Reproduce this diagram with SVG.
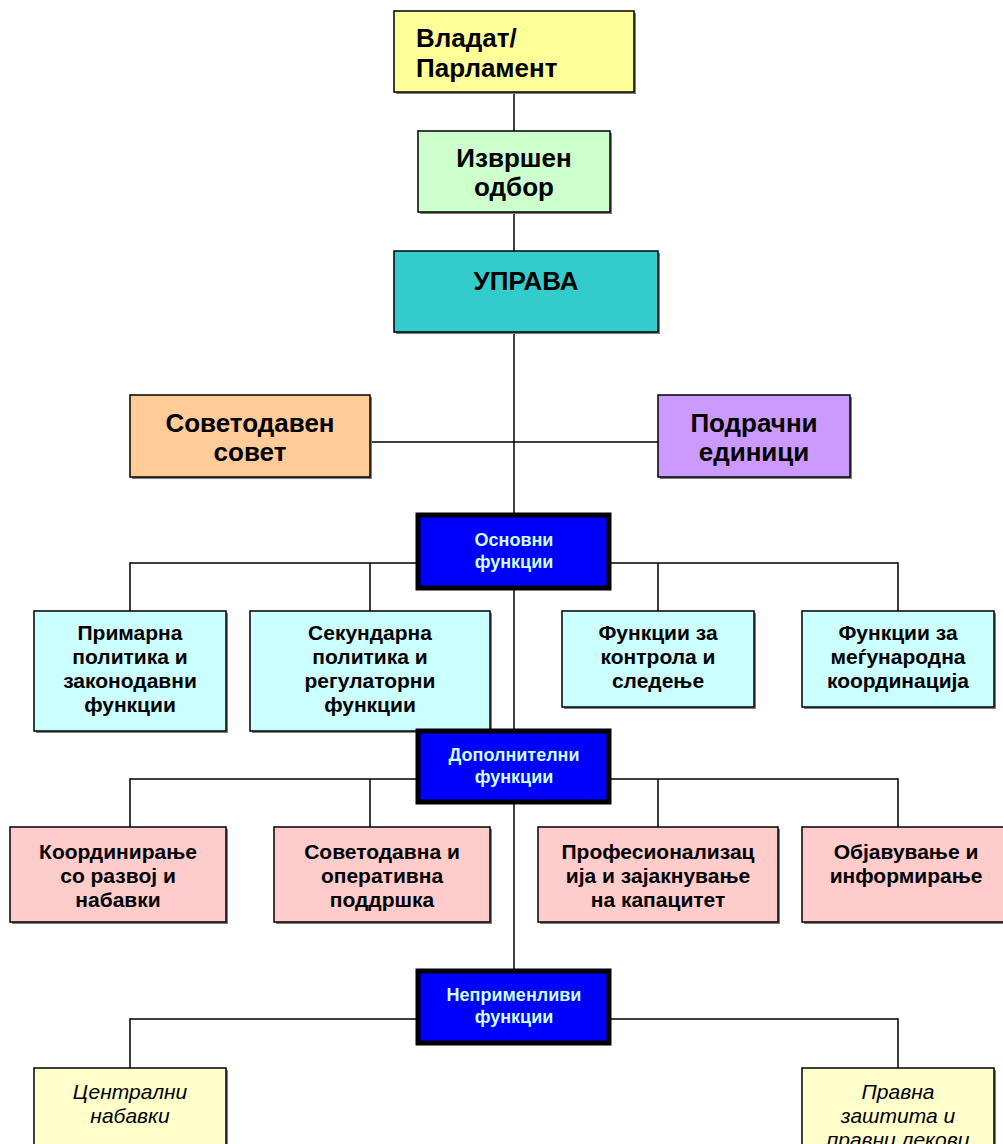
<svg xmlns="http://www.w3.org/2000/svg" width="1003" height="1144" viewBox="0 0 1003 1144">
<style>
.box{stroke:#000;stroke-width:1.5}
.sh{fill:#808080}
.big{font-family:"Liberation Sans",Arial,sans-serif;font-weight:bold;font-size:26px;fill:#000}
.mid{font-family:"Liberation Sans",Arial,sans-serif;font-weight:bold;font-size:21px;fill:#000;text-anchor:middle}
.blue{fill:#0000ff;stroke:#000;stroke-width:5}
.bt{font-family:"Liberation Sans",Arial,sans-serif;font-weight:bold;font-size:18px;fill:#ccffff;text-anchor:middle}
.it{font-family:"Liberation Sans",Arial,sans-serif;font-style:italic;font-size:21px;fill:#000;text-anchor:middle}
.c{stroke:#000;stroke-width:1.5;fill:none}
</style>
<rect width="1003" height="1144" fill="#fff"/>
<g id="connectors">
<path class="c" d="M514 92V969"/>
<path class="c" d="M370 442H658"/>
<path class="c" d="M130 611V563H898V611M370 563V611M658 563V611"/>
<path class="c" d="M130 827V779H898V827M370 779V827M658 779V827"/>
<path class="c" d="M130 1068V1019H898V1068"/>
</g>
<g id="vlada">
<rect class="sh" x="396" y="13" width="240" height="81"/>
<rect class="box" x="394" y="11" width="240" height="81" fill="#ffff99"/>
<text class="big" x="416" y="47" font-size="24.5">Владат/</text>
<text class="big" x="416" y="77" font-size="24.5">Парламент</text>
</g>
<g id="izvrshen">
<rect class="sh" x="420" y="133" width="192" height="81"/>
<rect class="box" x="418" y="131" width="192" height="81" fill="#ccffcc"/>
<text class="big" x="514" y="167" text-anchor="middle">Извршен</text>
<text class="big" x="514" y="196" text-anchor="middle">одбор</text>
</g>
<g id="uprava">
<rect class="sh" x="396" y="253" width="264" height="81"/>
<rect class="box" x="394" y="251" width="264" height="81" fill="#33cccc"/>
<text class="big" x="526" y="290" text-anchor="middle" font-size="29.5">УПРАВА</text>
</g>
<g id="sovetodaven">
<rect class="sh" x="132" y="397" width="240" height="82"/>
<rect class="box" x="130" y="395" width="240" height="82" fill="#ffcc99"/>
<text class="big" x="250" y="432" text-anchor="middle" font-size="26.5">Советодавен</text>
<text class="big" x="250" y="461" text-anchor="middle" font-size="26.5">совет</text>
</g>
<g id="podrachni">
<rect class="sh" x="660" y="397" width="192" height="82"/>
<rect class="box" x="658" y="395" width="192" height="82" fill="#cc99ff"/>
<text class="big" x="754" y="432" text-anchor="middle" font-size="26.5">Подрачни</text>
<text class="big" x="754" y="461" text-anchor="middle" font-size="26.5">единици</text>
</g>
<g id="osnovni">
<rect class="blue" x="418" y="515" width="191" height="73"/>
<text class="bt" x="514" y="546">Основни</text>
<text class="bt" x="514" y="568">функции</text>
</g>
<g id="primarna">
<rect class="sh" x="36" y="613" width="192" height="120"/>
<rect class="box" x="34" y="611" width="192" height="120" fill="#ccffff"/>
<text class="mid" x="130" y="640">Примарна</text>
<text class="mid" x="130" y="664">политика и</text>
<text class="mid" x="130" y="688">законодавни</text>
<text class="mid" x="130" y="712">функции</text>
</g>
<g id="sekundarna">
<rect class="sh" x="252" y="613" width="240" height="120"/>
<rect class="box" x="250" y="611" width="240" height="120" fill="#ccffff"/>
<text class="mid" x="370" y="640">Секундарна</text>
<text class="mid" x="370" y="664">политика и</text>
<text class="mid" x="370" y="688">регулаторни</text>
<text class="mid" x="370" y="712">функции</text>
</g>
<g id="kontrola">
<rect class="sh" x="564" y="613" width="192" height="96"/>
<rect class="box" x="562" y="611" width="192" height="96" fill="#ccffff"/>
<text class="mid" x="658" y="640">Функции за</text>
<text class="mid" x="658" y="664">контрола и</text>
<text class="mid" x="658" y="688">следење</text>
</g>
<g id="megjunarodna">
<rect class="sh" x="804" y="613" width="192" height="96"/>
<rect class="box" x="802" y="611" width="192" height="96" fill="#ccffff"/>
<text class="mid" x="898" y="640">Функции за</text>
<text class="mid" x="898" y="664">меѓународна</text>
<text class="mid" x="898" y="688">координација</text>
</g>
<g id="dopolnitelni">
<rect class="blue" x="418" y="731" width="191" height="71"/>
<text class="bt" x="514" y="761">Дополнителни</text>
<text class="bt" x="514" y="783">функции</text>
</g>
<g id="koordiniranje">
<rect class="sh" x="12" y="829" width="216" height="95"/>
<rect class="box" x="10" y="827" width="216" height="95" fill="#ffcccc"/>
<text class="mid" x="118" y="859">Координирање</text>
<text class="mid" x="118" y="883">со развој и</text>
<text class="mid" x="118" y="907">набавки</text>
</g>
<g id="sovetodavna">
<rect class="sh" x="276" y="829" width="216" height="95"/>
<rect class="box" x="274" y="827" width="216" height="95" fill="#ffcccc"/>
<text class="mid" x="382" y="859">Советодавна и</text>
<text class="mid" x="382" y="883">оперативна</text>
<text class="mid" x="382" y="907">поддршка</text>
</g>
<g id="profesionalizacija">
<rect class="sh" x="540" y="829" width="240" height="95"/>
<rect class="box" x="538" y="827" width="240" height="95" fill="#ffcccc"/>
<text class="mid" x="658" y="859">Професионализац</text>
<text class="mid" x="658" y="883">ија и зајакнување</text>
<text class="mid" x="658" y="907">на капацитет</text>
</g>
<g id="objavuvanje">
<rect class="sh" x="804" y="829" width="216" height="95"/>
<rect class="box" x="802" y="827" width="216" height="95" fill="#ffcccc"/>
<text class="mid" x="906" y="859">Објавување и</text>
<text class="mid" x="906" y="883">информирање</text>
</g>
<g id="neprimenlivi">
<rect class="blue" x="418" y="971" width="191" height="72"/>
<text class="bt" x="514" y="1001">Неприменливи</text>
<text class="bt" x="514" y="1023">функции</text>
</g>
<g id="centralni">
<rect class="sh" x="36" y="1070" width="192" height="100"/>
<rect class="box" x="34" y="1068" width="192" height="100" fill="#ffffcc"/>
<text class="it" x="130" y="1099">Централни</text>
<text class="it" x="130" y="1123">набавки</text>
</g>
<g id="pravna">
<rect class="sh" x="804" y="1070" width="192" height="100"/>
<rect class="box" x="802" y="1068" width="192" height="100" fill="#ffffcc"/>
<text class="it" x="898" y="1099">Правна</text>
<text class="it" x="898" y="1123">заштита и</text>
<text class="it" x="898" y="1147">правни лекови</text>
</g>
</svg>
